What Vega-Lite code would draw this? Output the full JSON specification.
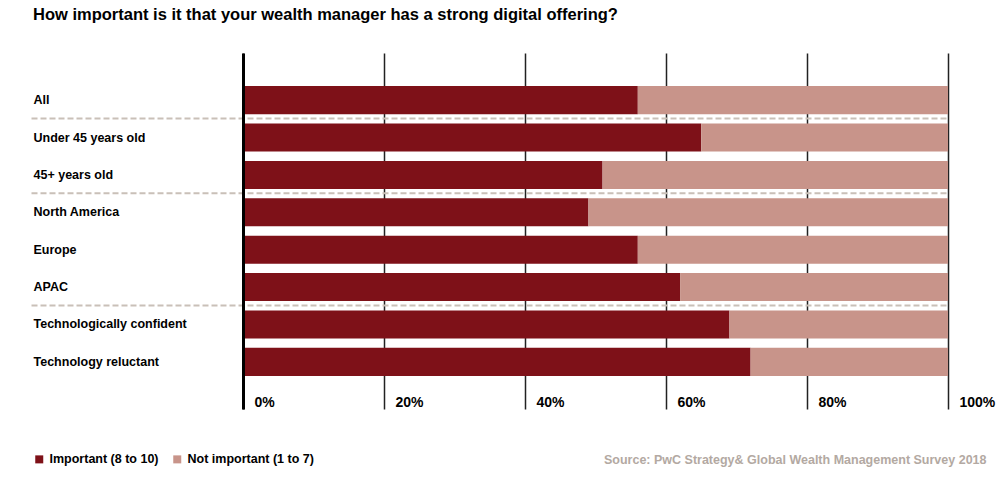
{
  "$schema": "https://vega.github.io/schema/vega-lite/v6.json",
  "autosize": "none",
  "width": 705,
  "height": 356,
  "padding": {"left": 243, "top": 53, "right": 53, "bottom": 71},
  "background": "white",
  "config": {"font": "Liberation Sans", "view": {"stroke": null}},
  "title": {
    "text": "How important is it that your wealth manager has a strong digital offering?",
    "anchor": "start",
    "frame": "group",
    "dx": -210,
    "offset": 30,
    "fontSize": 16.5,
    "fontWeight": "bold",
    "color": "#000000"
  },
  "datasets": {
    "bars": [
      {"category": "All", "response": "Important (8 to 10)", "share": 56},
      {"category": "All", "response": "Not important (1 to 7)", "share": 44},
      {"category": "Under 45 years old", "response": "Important (8 to 10)", "share": 65},
      {"category": "Under 45 years old", "response": "Not important (1 to 7)", "share": 35},
      {"category": "45+ years old", "response": "Important (8 to 10)", "share": 51},
      {"category": "45+ years old", "response": "Not important (1 to 7)", "share": 49},
      {"category": "North America", "response": "Important (8 to 10)", "share": 49},
      {"category": "North America", "response": "Not important (1 to 7)", "share": 51},
      {"category": "Europe", "response": "Important (8 to 10)", "share": 56},
      {"category": "Europe", "response": "Not important (1 to 7)", "share": 44},
      {"category": "APAC", "response": "Important (8 to 10)", "share": 62},
      {"category": "APAC", "response": "Not important (1 to 7)", "share": 38},
      {"category": "Technologically confident", "response": "Important (8 to 10)", "share": 69},
      {"category": "Technologically confident", "response": "Not important (1 to 7)", "share": 31},
      {"category": "Technology reluctant", "response": "Important (8 to 10)", "share": 72},
      {"category": "Technology reluctant", "response": "Not important (1 to 7)", "share": 28}
    ],
    "separators": [
      {"category": "Under 45 years old", "start": -30, "end": 100},
      {"category": "North America", "start": -30, "end": 100},
      {"category": "Technologically confident", "start": -30, "end": 100}
    ]
  },
  "layer": [
    {
      "data": {"name": "bars"},
      "mark": {"type": "bar"},
      "encoding": {
        "y": {
          "field": "category",
          "type": "nominal",
          "sort": null,
          "scale": {
            "domain": ["All", "Under 45 years old", "45+ years old", "North America", "Europe", "APAC", "Technologically confident", "Technology reluctant"],
            "paddingInner": 0.25,
            "paddingOuter": 0.885
          },
          "axis": {
            "title": null,
            "ticks": false,
            "labelAlign": "left",
            "labelPadding": 210,
            "labelFontSize": 12.5,
            "labelFontWeight": "bold",
            "labelColor": "#000000",
            "labelLimit": 220,
            "domain": true,
            "domainColor": "#000000",
            "domainWidth": 3,
            "grid": false,
            "zindex": 1
          }
        },
        "x": {
          "field": "share",
          "type": "quantitative",
          "stack": "zero",
          "scale": {"domain": [0, 100], "nice": false},
          "axis": {
            "values": [0, 20, 40, 60, 80, 100],
            "labelExpr": "datum.value + '%'",
            "grid": true,
            "gridColor": "#222222",
            "gridWidth": 1.5,
            "domain": false,
            "ticks": false,
            "tickSize": 0,
            "labelAlign": "left",
            "labelBaseline": "middle",
            "labelOffset": 11,
            "labelPadding": -7,
            "labelFontSize": 14,
            "labelFontWeight": "bold",
            "labelColor": "#000000",
            "labelFlush": false,
            "title": "Source: PwC Strategy& Global Wealth Management Survey 2018",
            "titleAnchor": "end",
            "titleAlign": "right",
            "titleBaseline": "middle",
            "titleX": 743,
            "titleY": 50,
            "titleFontSize": 12.5,
            "titleFontWeight": "bold",
            "titleColor": "#b3a9a2"
          }
        },
        "color": {
          "field": "response",
          "type": "nominal",
          "scale": {"domain": ["Important (8 to 10)", "Not important (1 to 7)"], "range": ["#7e1118", "#c8948a"]},
          "legend": {
            "title": null,
            "orient": "none",
            "direction": "horizontal",
            "legendX": -210,
            "legendY": 400,
            "symbolType": "square",
            "symbolSize": 64,
            "symbolStrokeWidth": 0,
            "labelFontSize": 12.5,
            "labelFontWeight": "bold",
            "labelColor": "#000000",
            "labelOffset": 4,
            "columnPadding": 12
          }
        },
        "order": {"field": "response", "type": "nominal", "sort": "ascending"}
      }
    },
    {
      "data": {"name": "separators"},
      "mark": {"type": "rule", "color": "#c9c0b8", "strokeWidth": 2, "strokeDash": [6, 3], "yOffset": -5, "clip": false},
      "encoding": {
        "y": {"field": "category", "type": "nominal", "sort": null, "bandPosition": 0},
        "x": {"field": "start", "type": "quantitative"},
        "x2": {"field": "end"}
      }
    }
  ]
}
